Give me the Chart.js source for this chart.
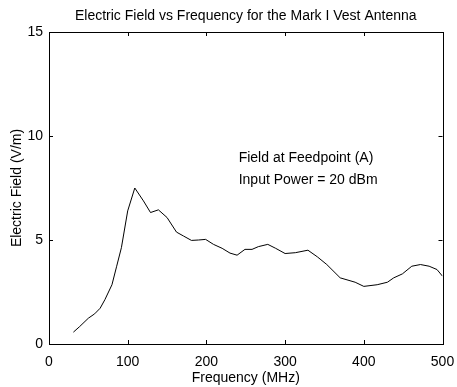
<!DOCTYPE html>
<html>
<head>
<meta charset="utf-8">
<script src="https://cdn.jsdelivr.net/npm/chart.js@4/dist/chart.umd.min.js"></script>
<style>
html,body{margin:0;padding:0;background:#fff;}
#wrap{width:457px;height:387px;}
</style>
</head>
<body>
<div id="wrap"><canvas id="c" width="457" height="387"></canvas></div>
<script>
const titleText = "Electric Field vs Frequency for the Mark I Vest Antenna";
const xLabel = "Frequency (MHz)";
const yLabel = "Electric Field (V/m)";
const noteLines = ["Field at Feedpoint (A)", "Input Power = 20 dBm"];
const xTicks = [0, 100, 200, 300, 400, 500];
const yTicks = [0, 5, 10, 15];
const freq = [31, 39, 50, 58, 65, 71, 80, 86, 92, 100, 109, 120, 129, 139, 150, 162, 171, 181, 190, 199,
  209, 220, 230, 239, 249, 258, 266, 278, 288, 300, 313, 329, 341, 353, 370, 389, 400, 417, 430, 438,
  449, 461, 472, 483, 493, 500];
const field = [0.57, 0.84, 1.24, 1.45, 1.72, 2.13, 2.85, 3.74, 4.63, 6.4, 7.5, 6.88, 6.32, 6.45, 6.08, 5.38, 5.19, 4.98, 5.0, 5.03,
  4.79, 4.6, 4.37, 4.27, 4.55, 4.55, 4.68, 4.79, 4.6, 4.35, 4.39, 4.51, 4.19, 3.82, 3.18, 2.97, 2.77, 2.85, 2.97, 3.18,
  3.37, 3.74, 3.82, 3.74, 3.58, 3.26];

const FONT = "'Liberation Sans', Arial, Helvetica, sans-serif";

const framePlugin = {
  id: 'frame',
  afterDraw(chart) {
    const ctx = chart.ctx;
    const a = chart.chartArea;
    const xs = chart.scales.x, ys = chart.scales.y;
    ctx.save();
    ctx.strokeStyle = '#000';
    ctx.lineWidth = 1;
    ctx.strokeRect(Math.round(a.left) + 0.5, Math.round(a.top) + 0.5, Math.round(a.right - a.left), Math.round(a.bottom - a.top));
    const tl = 4;
    ctx.beginPath();
    xTicks.forEach(v => {
      const px = Math.round(xs.getPixelForValue(v)) + 0.5;
      ctx.moveTo(px, a.bottom); ctx.lineTo(px, a.bottom - tl);
      ctx.moveTo(px, a.top); ctx.lineTo(px, a.top + tl);
    });
    yTicks.forEach(v => {
      const py = Math.round(ys.getPixelForValue(v)) + 0.5;
      ctx.moveTo(a.left, py); ctx.lineTo(a.left + tl, py);
      ctx.moveTo(a.right, py); ctx.lineTo(a.right - tl, py);
    });
    ctx.stroke();
    // title
    ctx.fillStyle = '#000';
    ctx.font = "14px " + FONT;
    ctx.textAlign = 'center';
    ctx.textBaseline = 'middle';
    ctx.fillText(titleText, (a.left + a.right) / 2, 16);
    // note
    ctx.textAlign = 'left';
    ctx.fillText(noteLines[0], xs.getPixelForValue(241), ys.getPixelForValue(8.95));
    ctx.fillText(noteLines[1], xs.getPixelForValue(241), ys.getPixelForValue(7.88));
    ctx.restore();
  }
};

new Chart(document.getElementById('c'), {
  type: 'line',
  data: {
    datasets: [{
      data: freq.map((f, i) => ({x: f, y: field[i]})),
      borderColor: '#000',
      borderWidth: 1,
      pointRadius: 0,
      tension: 0,
      fill: false
    }]
  },
  options: {
    responsive: false,
    animation: false,
    devicePixelRatio: 1,
    layout: {padding: {top: 32, right: 14.5, left: 0, bottom: 0}},
    plugins: {legend: {display: false}, tooltip: {enabled: false}, title: {display: false}},
    scales: {
      x: {
        type: 'linear', min: 0, max: 500,
        afterFit(s) { s.height = 43; s.paddingLeft = 0; s.paddingRight = 0; },
        afterBuildTicks(s) { s.ticks = xTicks.map(v => ({value: v})); },
        grid: {display: false, drawTicks: false},
        border: {display: false},
        ticks: {color: '#000', padding: 10, font: {family: FONT, size: 14}},
        title: {display: true, text: xLabel, color: '#000', font: {family: FONT, size: 14}, padding: {top: 0, bottom: 0}}
      },
      y: {
        type: 'linear', min: 0, max: 15,
        afterFit(s) { s.width = 49; s.paddingTop = 0; s.paddingBottom = 0; },
        afterBuildTicks(s) { s.ticks = yTicks.map(v => ({value: v})); },
        grid: {display: false, drawTicks: false},
        border: {display: false},
        ticks: {color: '#000', padding: 6, font: {family: FONT, size: 14}},
        title: {display: true, text: yLabel, color: '#000', font: {family: FONT, size: 14}, padding: {top: 9, bottom: 0}}
      }
    }
  },
  plugins: [framePlugin]
});
</script>
</body>
</html>
